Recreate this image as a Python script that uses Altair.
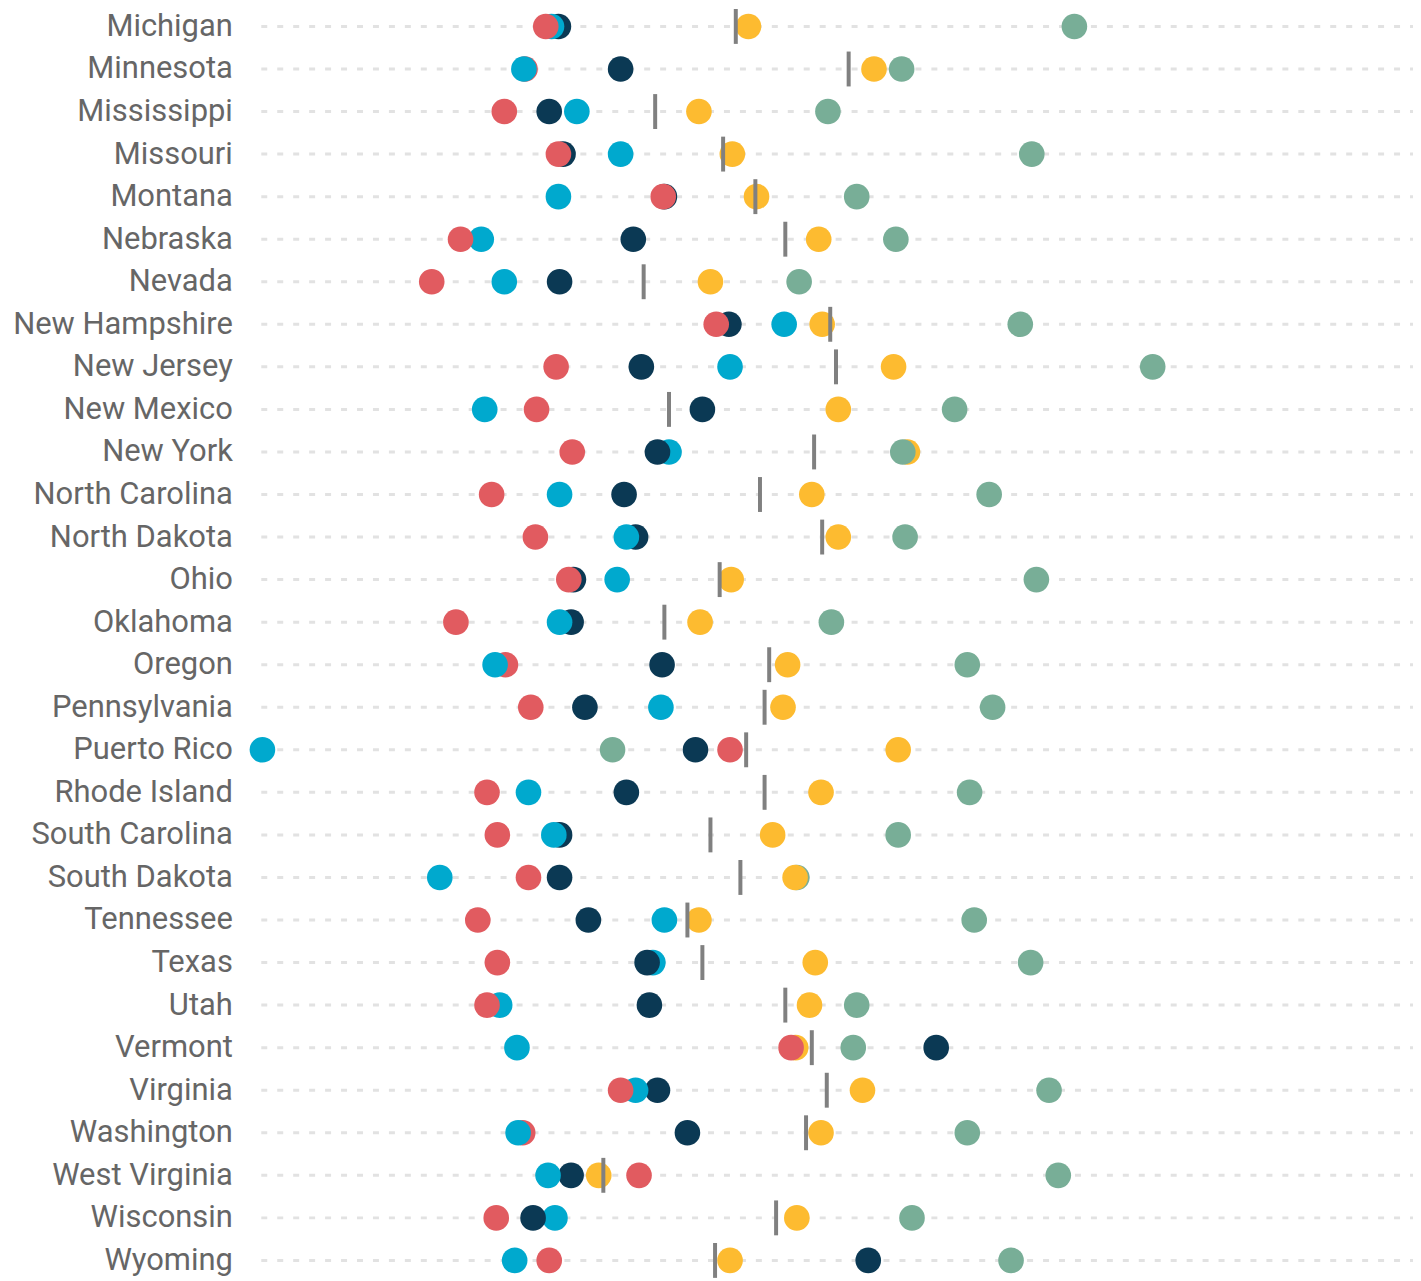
import altair as alt
import pandas as pd

states = ["Michigan", "Minnesota", "Mississippi", "Missouri", "Montana", "Nebraska",
          "Nevada", "New Hampshire", "New Jersey", "New Mexico", "New York",
          "North Carolina", "North Dakota", "Ohio", "Oklahoma", "Oregon",
          "Pennsylvania", "Puerto Rico", "Rhode Island", "South Carolina",
          "South Dakota", "Tennessee", "Texas", "Utah", "Vermont", "Virginia",
          "Washington", "West Virginia", "Wisconsin", "Wyoming"]

series_names = ["Series A", "Series B", "Series C", "Series D", "Series E"]
series_colors = ["#e15b60", "#00a9ce", "#0b3954", "#fdbb30", "#78ae97"]

# red
series_a = [24.7, 22.9, 21.1, 25.8, 34.9, 17.3, 14.8, 39.5, 25.6, 23.9, 27.0,
            20.0, 23.8, 26.7, 16.9, 21.2, 23.4, 40.7, 19.6, 20.5, 23.2, 18.8,
            20.5, 19.6, 46.0, 31.2, 22.7, 32.8, 20.4, 25.0]
# cyan
series_b = [25.2, 22.8, 27.4, 31.2, 25.8, 19.1, 21.1, 45.4, 40.7, 19.4, 35.4,
            25.9, 31.7, 30.9, 25.9, 20.3, 34.7, 0.1, 23.2, 25.4, 15.5, 35.0,
            34.0, 20.7, 22.2, 32.5, 22.3, 24.9, 25.5, 22.0]
# navy
series_c = [25.8, 31.2, 25.0, 26.2, 35.0, 32.3, 25.9, 40.6, 33.0, 38.3, 34.4,
            31.5, 32.5, 27.1, 26.9, 34.8, 28.1, 37.7, 31.7, 25.9, 25.9, 28.4,
            33.5, 33.7, 58.6, 34.4, 37.0, 26.9, 23.6, 52.7]
# yellow
series_d = [42.3, 53.2, 38.0, 40.9, 43.0, 48.4, 39.0, 48.7, 54.9, 50.1, 56.1,
            47.8, 50.1, 40.8, 38.1, 45.7, 45.3, 55.3, 48.6, 44.4, 46.35, 38.0,
            48.1, 47.6, 46.4, 52.2, 48.6, 29.3, 46.5, 40.7]
# green
series_e = [70.6, 55.6, 49.2, 66.9, 51.7, 55.1, 46.7, 65.9, 77.4, 60.2, 55.7,
            63.2, 55.9, 67.3, 49.5, 61.3, 63.5, 30.5, 61.5, 55.3, 46.5, 61.9,
            66.8, 51.7, 51.4, 68.4, 61.3, 69.2, 56.5, 65.1]
# gray marker
marker = [41.2, 51.0, 34.2, 40.1, 42.9, 45.5, 33.2, 49.4, 49.9, 35.4, 48.0,
          43.3, 48.7, 39.8, 35.0, 44.1, 43.7, 42.1, 43.7, 39.0, 41.6, 37.0,
          38.3, 45.5, 47.8, 49.1, 47.3, 29.7, 44.7, 39.4]

rows = []
for name, vals in zip(series_names, [series_a, series_b, series_c, series_d, series_e]):
    for s, v in zip(states, vals):
        rows.append({"state": s, "series": name, "value": v})
dots = pd.DataFrame(rows)
marks = pd.DataFrame({"state": states, "value": marker})
lines = pd.DataFrame({"state": states})

W = 1155
H = 1400
LEFT = 254

yenc = alt.Y("state:N", sort=states, title=None,
             scale=alt.Scale(type="point", range=[16.5, 1254], padding=0),
             axis=alt.Axis(domain=False, ticks=False, tickSize=0, grid=False,
                           labelFont="Roboto", labelFontSize=31,
                           labelColor="#666666", labelPadding=29,
                           labelLimit=400, minExtent=LEFT, maxExtent=LEFT))

xscale = alt.Scale(domain=[0, 100], nice=False, zero=False)

grid = alt.Chart(lines).mark_rule(color="#e2e2e2", strokeWidth=3,
                                  strokeDash=[6, 10]).encode(
    x=alt.value(0), x2=alt.value(W), y=yenc)

pts = alt.Chart(dots).mark_circle(size=660, opacity=1).encode(
    x=alt.X("value:Q", scale=xscale, axis=None),
    y=yenc,
    color=alt.Color("series:N", scale=alt.Scale(domain=series_names, range=series_colors),
                    legend=None),
    order=alt.Order("value:Q", sort="descending"))

ticks = alt.Chart(marks).mark_tick(color="#808080", thickness=4, size=35, opacity=1).encode(
    x=alt.X("value:Q", scale=xscale, axis=None),
    y=yenc)

chart = alt.layer(grid, pts, ticks).properties(
    width=W, height=H,
    padding={"left": LEFT, "top": 0, "right": 0, "bottom": 0},
    autosize=alt.AutoSizeParams(type="none")
).configure_view(stroke=None)

chart.save("out.html", embed_options={"renderer": "svg", "actions": False})
